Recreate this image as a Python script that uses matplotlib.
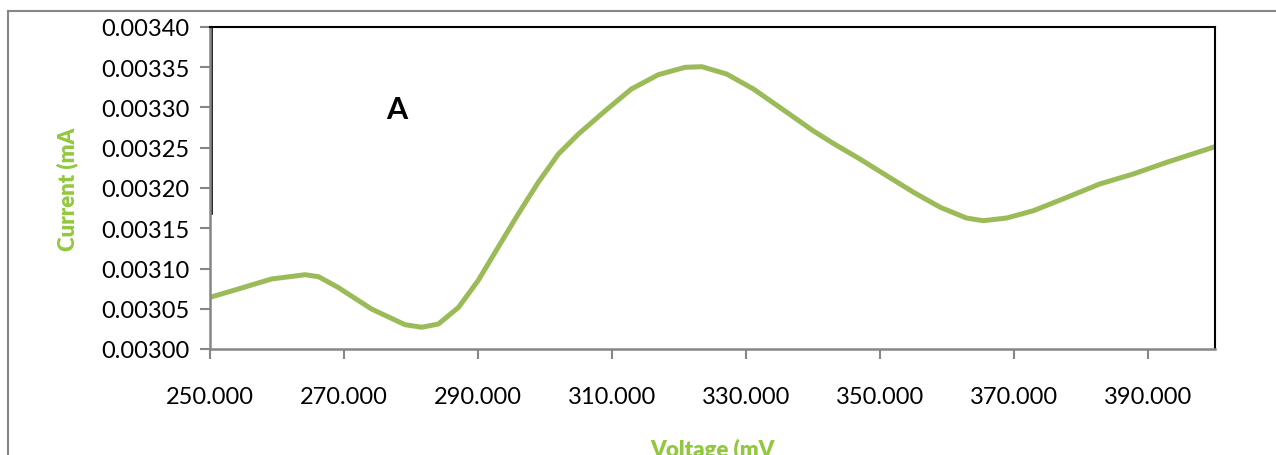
import matplotlib
matplotlib.use("Agg")
import matplotlib.pyplot as plt
from matplotlib.lines import Line2D

# Datos (voltaje en mV, corriente en mA)
voltaje = [250.0, 254.2, 259.2, 264.2, 266.2, 269.1, 274.1, 279.1, 281.6, 284.1,
           287.1, 290.0, 293.0, 296.0, 299.0, 302.0, 305.0, 309.0, 312.9, 316.9,
           320.9, 323.4, 327.1, 331.1, 336.1, 340.0, 343.0, 347.0, 351.0, 355.0,
           359.0, 362.9, 365.4, 368.9, 372.9, 377.9, 382.8, 387.8, 392.8, 400.0]
corriente = [0.0030642, 0.0030745, 0.0030870, 0.0030923, 0.0030898, 0.0030766,
             0.0030497, 0.0030302, 0.0030270, 0.0030311, 0.0030518, 0.0030848,
             0.0031263, 0.0031677, 0.0032071, 0.0032422, 0.0032671, 0.0032960,
             0.0033230, 0.0033407, 0.0033499, 0.0033507, 0.0033416, 0.0033230,
             0.0032940, 0.0032712, 0.0032555, 0.0032360, 0.0032153, 0.0031947,
             0.0031760, 0.0031627, 0.0031594, 0.0031627, 0.0031718, 0.0031884,
             0.0032050, 0.0032174, 0.0032319, 0.0032513]
xticks = [250, 270, 290, 310, 330, 350, 370, 390]
yticks = [0.00300, 0.00305, 0.00310, 0.00315, 0.00320, 0.00325, 0.00330, 0.00335, 0.00340]

plt.rcParams['font.family'] = ['Lato', 'DejaVu Sans']
verde_texto = '#92C83E'
gris = '#868686'

fig = plt.figure(figsize=(12.76, 4.56), dpi=100)
ax = fig.add_axes([210/1276, 1 - 350/456, 1005/1276, 322/456])

ax.plot(voltaje, corriente, color='#9BBB59', linewidth=3.6,
        solid_joinstyle='round', solid_capstyle='butt')

ax.set_xlim(250, 400)
ax.set_ylim(0.003, 0.0034)
ax.set_xticks(xticks)
ax.set_xticklabels([f"{v:.3f}" for v in xticks])
ax.set_yticks(yticks)
ax.set_yticklabels([f"{v:.5f}" for v in yticks])
ax.tick_params(axis='x', direction='out', length=7, width=1.5, color=gris, pad=20, labelsize=17)
ax.tick_params(axis='y', direction='out', length=7, width=1.5, color=gris, pad=8, labelsize=17)

for lado in ['top', 'right']:
    ax.spines[lado].set_color('black')
    ax.spines[lado].set_linewidth(1.5)
for lado in ['left', 'bottom']:
    ax.spines[lado].set_color(gris)
    ax.spines[lado].set_linewidth(1.8)
# borde negro parcial junto al eje y
ax.axvline(250.35, ymin=0.42, ymax=1, color='black', linewidth=1.2)

ax.set_xlabel('Voltage (mV', color=verde_texto, fontsize=16, fontweight='heavy')
ax.xaxis.set_label_coords(0.5, -0.275)
ax.set_ylabel('Current (mA', color=verde_texto, fontsize=16, fontweight='heavy')
ax.yaxis.set_label_coords(-0.131, 0.5)

ax.text(0.186, 0.745, 'A', transform=ax.transAxes, fontsize=22, fontweight='bold',
        ha='center', va='center')

# marco exterior del gráfico
fig.add_artist(Line2D([8/1276, 8/1276], [0, 1 - 12/456], color=gris, linewidth=1.5))
fig.add_artist(Line2D([8/1276, 1], [1 - 12/456, 1 - 12/456], color=gris, linewidth=1.5))

fig.savefig('out.png', dpi=100)
